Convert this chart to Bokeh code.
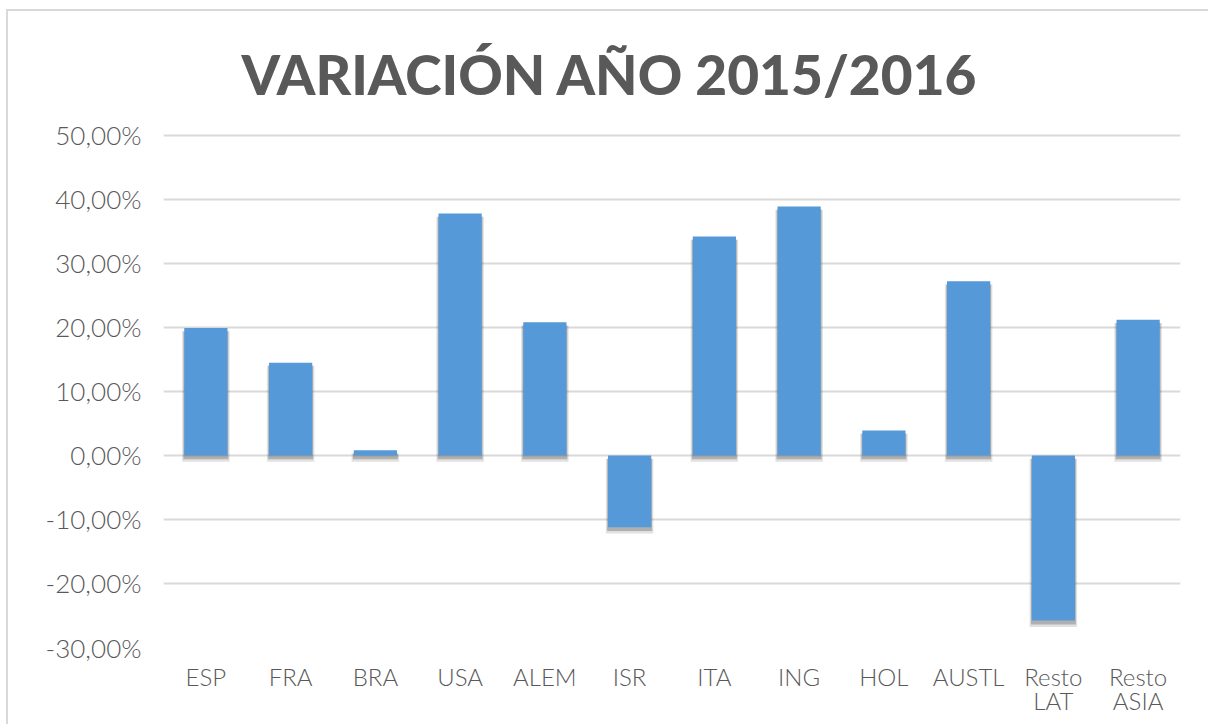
from bokeh.plotting import figure
from bokeh.models import FixedTicker, FactorRange, Range1d
from bokeh.embed import file_html
from bokeh.resources import INLINE

categories = ["ESP", "FRA", "BRA", "USA", "ALEM", "ISR", "ITA", "ING", "HOL",
              "AUSTL", "Resto\nLAT", "Resto\nASIA"]
values = [19.9, 14.5, 0.8, 37.8, 20.8, -11.2, 34.2, 38.9, 3.9, 27.2, -25.8, 21.2]
y_ticks = [-30, -20, -10, 0, 10, 20, 30, 40, 50]
y_tick_labels = ["-30,00%", "-20,00%", "-10,00%", "0,00%", "10,00%", "20,00%",
                 "30,00%", "40,00%", "50,00%"]
title_text = "VARIACIÓN AÑO 2015/2016"

TEXT = "#595959"
GRID = "#d9d9d9"

p = figure(width=1202, height=715, x_range=FactorRange(*categories),
           y_range=Range1d(-30, 50.3), output_backend="svg", toolbar_location=None,
           min_border_left=155, min_border_right=30, min_border_top=122,
           min_border_bottom=79, title=title_text)

p.title.align = "left"
p.title.offset = 78
p.title.standoff = 53
p.title.text_font = "Lato Black"
p.title.text_font_style = "bold"
p.title.text_font_size = "55px"
p.title.text_color = TEXT

# soft shadow below each bar
shadow_top = [max(v, 0) - 0.5 for v in values]
shadow_bottom = [min(v, 0) - 1.0 for v in values]
p.vbar(x=categories, top=shadow_top, bottom=shadow_bottom, width=0.56,
       fill_color="#595959", fill_alpha=0.18, line_color=None)
shadow_bottom2 = [min(v, 0) - 0.6 for v in values]
p.vbar(x=categories, top=shadow_top, bottom=shadow_bottom2, width=0.53,
       fill_color="#404040", fill_alpha=0.3, line_color=None)

p.vbar(x=categories, top=values, bottom=0, width=0.51,
       fill_color="#5599d8", line_color=None)

p.outline_line_color = None
p.xgrid.grid_line_color = None
p.ygrid.grid_line_color = GRID
p.ygrid.grid_line_width = 2
p.yaxis.ticker = FixedTicker(ticks=y_ticks)
p.yaxis.major_label_overrides = dict(zip(y_ticks, y_tick_labels))

for ax in (p.xaxis, p.yaxis):
    ax.axis_line_color = None
    ax.major_tick_line_color = None
    ax.minor_tick_line_color = None
    ax.major_label_text_font = "Lato Light"
    ax.major_label_text_font_size = "24px"
    ax.major_label_text_color = TEXT
p.yaxis.major_label_text_font_size = "26px"
p.yaxis.major_label_standoff = 16
p.xaxis.major_label_standoff = 8
p.xaxis.major_label_text_line_height = 0.85

p.styles = {"margin-left": "6px", "margin-top": "9px",
            "border-left": "2px solid #d9d9d9", "border-top": "2px solid #d9d9d9"}

open("out.html", "w").write(file_html(p, INLINE))
